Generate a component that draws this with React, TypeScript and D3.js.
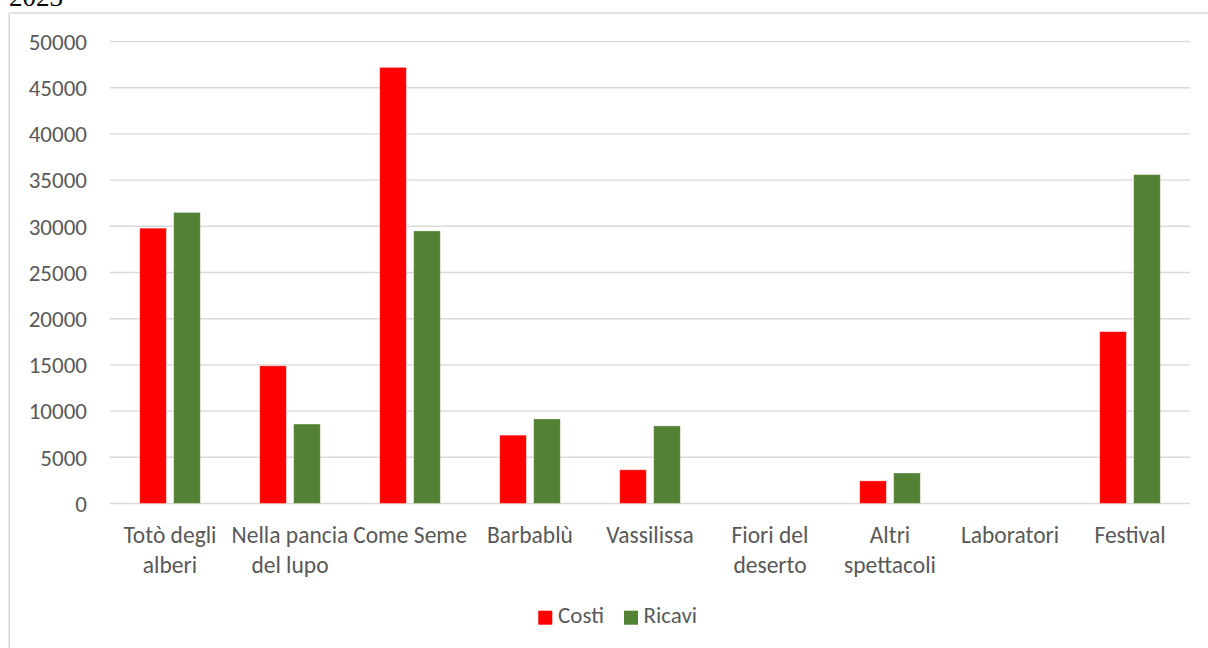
import React from "react";
import * as d3 from "d3";

const categories = [
  "Totò degli alberi",
  "Nella pancia del lupo",
  "Come Seme",
  "Barbablù",
  "Vassilissa",
  "Fiori del deserto",
  "Altri spettacoli",
  "Laboratori",
  "Festival",
];
const categoryLines = [
  ["Totò degli", "alberi"],
  ["Nella pancia", "del lupo"],
  ["Come Seme"],
  ["Barbablù"],
  ["Vassilissa"],
  ["Fiori del", "deserto"],
  ["Altri", "spettacoli"],
  ["Laboratori"],
  ["Festival"],
];
const seriesNames = ["Costi", "Ricavi"];
const costi = [29800, 14900, 47200, 7400, 3650, 0, 2450, 0, 18600];
const ricavi = [31500, 8600, 29500, 9150, 8400, 0, 3300, 0, 35600];
const seriesColors = ["#FF0000", "#548235"];
const yTicks = [0, 5000, 10000, 15000, 20000, 25000, 30000, 35000, 40000, 45000, 50000];
const titleText = "2023";

const FONT = "Carlito, Calibri, Lato, sans-serif";
const TEXT = "#595959";

export default function App() {
  const W = 1208;
  const H = 648;
  const x0 = d3.scaleBand<string>().domain(categories).range([110, 1190]).padding(0);
  const x1 = d3.scaleBand<string>().domain(seriesNames).range([29.7, 90.3]).paddingInner(0.215);
  const y = d3.scaleLinear().domain([0, 50000]).range([503.5, 41.5]);
  const series = [costi, ricavi];

  return (
    <svg width={W} height={H} style={{ position: "absolute", left: 0, top: 0, background: "#fff" }}>
      <rect x={0} y={0} width={W} height={H} fill="#fff" />
      <text x={9} y={6} fontFamily="'Liberation Serif', 'DejaVu Serif', serif" fontSize={27} fill="#000">
        {titleText}
      </text>
      {/* chart border */}
      <line x1={9.2} y1={13} x2={W} y2={13} stroke="#d9d9d9" strokeWidth={1.5} />
      <line x1={9.2} y1={13} x2={9.2} y2={H} stroke="#d9d9d9" strokeWidth={1.5} />
      {/* gridlines */}
      {yTicks.map((t) => (
        <g key={t}>
          <line x1={110} x2={1190} y1={y(t)} y2={y(t)} stroke="#d9d9d9" strokeWidth={1.4} />
          <text x={87} y={y(t)} dy="0.36em" textAnchor="end" fontFamily={FONT} fontSize={23} fill={TEXT}>
            {t}
          </text>
        </g>
      ))}
      {/* bars */}
      {categories.map((c, i) => (
        <g key={c} transform={`translate(${x0(c)},0)`}>
          {seriesNames.map((s, k) => {
            const v = series[k][i];
            if (!v) return null;
            return (
              <rect
                key={s}
                x={x1(s)}
                y={y(v)}
                width={x1.bandwidth()}
                height={y(0) - y(v)}
                fill={seriesColors[k]}
                stroke="#ffffff"
                strokeOpacity={0.45}
                strokeWidth={0.8}
              />
            );
          })}
        </g>
      ))}
      {/* category labels */}
      {categories.map((c, i) => (
        <text
          key={c}
          x={(x0(c) as number) + x0.bandwidth() / 2}
          y={543.3}
          textAnchor="middle"
          fontFamily={FONT}
          fontSize={23.5}
          fill={TEXT}
        >
          {categoryLines[i].map((ln, j) => (
            <tspan key={j} x={(x0(c) as number) + x0.bandwidth() / 2} dy={j === 0 ? 0 : 29.4}>
              {ln}
            </tspan>
          ))}
        </text>
      ))}
      {/* legend */}
      <rect x={538.3} y={610.7} width={14} height={14} fill={seriesColors[0]} />
      <text x={558} y={623.3} fontFamily={FONT} fontSize={23} fill={TEXT}>
        {seriesNames[0]}
      </text>
      <rect x={624} y={610.7} width={14} height={14} fill={seriesColors[1]} />
      <text x={643.5} y={623.3} fontFamily={FONT} fontSize={23} fill={TEXT}>
        {seriesNames[1]}
      </text>
    </svg>
  );
}
